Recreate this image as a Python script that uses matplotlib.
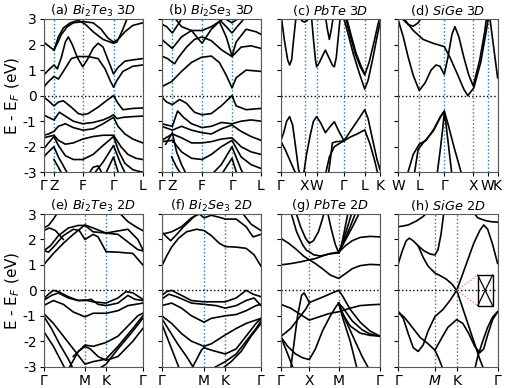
import matplotlib
matplotlib.use("Agg")
import matplotlib.pyplot as plt

# ---------------- data ----------------
titles = [r"(a) $Bi_2Te_3\ 3D$", r"(b) $Bi_2Se_3\ 3D$", r"(c) $PbTe\ 3D$", r"(d) $SiGe\ 3D$",
          r"(e) $Bi_2Te_3\ 2D$", r"(f) $Bi_2Se_3\ 2D$", r"(g) $PbTe\ 2D$", r"(h) $SiGe\ 2D$"]

y_ticks = [-3, -2, -1, 0, 1, 2, 3]
y_ticklabels = ["-3", "-2", "-1", "0", "1", "2", "3"]

a_kpos = [0.0, 0.105, 0.395, 0.705, 1.0]
a_klab = ["Γ", "Z", "F", "Γ", "L"]
b_kpos = [0.0, 0.107, 0.406, 0.708, 1.0]
b_klab = ["Γ", "Z", "F", "Γ", "L"]
c_kpos = [0.0, 0.242, 0.362, 0.637, 0.846, 1.0]
c_klab = ["Γ", "X", "W", "Γ", "L", "K"]
d_kpos = [0.0, 0.211, 0.463, 0.755, 0.899, 1.0]
d_klab = ["W", "L", "Γ", "X", "W", "K"]
e_kpos = [0.0, 0.418, 0.63, 1.0]
e_klab = ["Γ", "M", "K", "Γ"]
f_kpos = [0.0, 0.426, 0.64, 1.0]
f_klab = ["Γ", "M", "K", "Γ"]
g_kpos = [0.0, 0.288, 0.584, 1.0]
g_klab = ["Γ", "X", "M", "Γ"]
h_kpos = [0.0, 0.369, 0.588, 1.0]
h_klab = ["Γ", "$M$", "K", "Γ"]

a_bands = [
    [(0, 2.1), (0.05, 1.95), (0.105, 1.78), (0.14, 2.05), (0.18, 2.4), (0.24, 2.7), (0.3, 2.85), (0.4, 2.9), (0.5, 2.85), (0.58, 2.6), (0.65, 2.25), (0.705, 2.1), (0.75, 2.2), (0.82, 2.5), (0.9, 2.75), (1.0, 2.85)],
    [(0.105, 1.78), (0.15, 2.3), (0.2, 2.65), (0.27, 2.85), (0.35, 2.95), (0.42, 2.8), (0.5, 2.5), (0.6, 2.2), (0.705, 2.05), (0.74, 2.1), (0.8, 2.6), (0.85, 3.1)],
    [(0, 0.8), (0.05, 1.0), (0.105, 1.2), (0.14, 1.05), (0.18, 1.5), (0.22, 2.1), (0.25, 2.3), (0.29, 2.0), (0.34, 1.5), (0.395, 1.13), (0.44, 1.4), (0.5, 1.85), (0.55, 2.05), (0.6, 1.9), (0.65, 1.4), (0.705, 0.85), (0.75, 1.1), (0.82, 1.35), (0.9, 1.4), (1.0, 1.45)],
    [(0, 0.33), (0.05, 0.55), (0.105, 0.75), (0.15, 0.65), (0.2, 0.95), (0.28, 1.45), (0.35, 1.53), (0.45, 1.53), (0.55, 1.45), (0.62, 1.05), (0.67, 0.6), (0.705, 0.33), (0.74, 0.6), (0.8, 0.95), (0.9, 1.15), (1.0, 1.2)],
    [(0, -0.05), (0.05, -0.2), (0.105, -0.4), (0.15, -0.25), (0.2, -0.2), (0.28, -0.45), (0.35, -0.7), (0.395, -0.75), (0.45, -0.7), (0.55, -0.45), (0.65, -0.15), (0.705, 0.0), (0.75, -0.3), (0.8, -0.55), (0.9, -0.5), (1.0, -0.48)],
    [(0, -0.75), (0.05, -0.85), (0.105, -0.95), (0.16, -0.65), (0.22, -0.8), (0.3, -1.0), (0.395, -1.1), (0.5, -1.05), (0.6, -0.95), (0.66, -0.85), (0.705, -0.75), (0.74, -0.9), (0.8, -0.85), (0.9, -0.82), (1.0, -0.8)],
    [(0, -1.55), (0.05, -1.5), (0.105, -1.4), (0.15, -1.2), (0.22, -1.1), (0.3, -1.25), (0.395, -1.35), (0.5, -1.3), (0.6, -1.1), (0.705, -0.85), (0.75, -1.2), (0.82, -1.5), (0.9, -1.7), (1.0, -1.85)],
    [(0, -1.65), (0.105, -1.55), (0.15, -1.75), (0.22, -1.9), (0.3, -1.85), (0.395, -1.7), (0.5, -1.6), (0.6, -1.55), (0.705, -1.55), (0.78, -2.0), (0.85, -2.3), (0.93, -2.45), (1.0, -2.5)],
    [(0, -2.1), (0.05, -1.85), (0.105, -1.6), (0.15, -1.95), (0.22, -2.35), (0.3, -2.5), (0.395, -2.5), (0.5, -2.3), (0.6, -1.95), (0.705, -1.6), (0.76, -2.2), (0.82, -2.65), (0.9, -2.9), (1.0, -3.0)],
    [(0, -2.4), (0.05, -2.2), (0.105, -2.0), (0.15, -2.4), (0.2, -2.75), (0.25, -3.1)],
    [(0.105, -2.5), (0.15, -2.8), (0.19, -3.1)],
    [(0.5, -3.1), (0.6, -2.6), (0.705, -1.95), (0.77, -2.6), (0.83, -3.1)],
    [(0.62, -3.1), (0.705, -2.4), (0.76, -3.1)],
    [(0.45, -3.1), (0.5, -2.8), (0.55, -2.75), (0.6, -3.1)],
]

b_bands = [
    [(0, 0.35), (0.1, 0.55), (0.2, 0.95), (0.3, 1.3), (0.4, 1.5), (0.5, 1.55), (0.58, 1.3), (0.65, 0.8), (0.708, 0.3), (0.75, 0.7), (0.85, 1.0), (1.0, 0.95)],
    [(0, 1.55), (0.06, 1.45), (0.107, 1.3), (0.13, 1.25), (0.17, 1.5), (0.25, 1.9), (0.33, 2.2), (0.406, 2.3), (0.5, 2.15), (0.6, 1.8), (0.708, 1.53), (0.8, 1.9), (0.9, 1.95), (1.0, 1.85)],
    [(0, 2.2), (0.107, 1.85), (0.2, 2.3), (0.3, 2.55), (0.406, 2.05), (0.5, 2.6), (0.58, 2.9), (0.65, 2.3), (0.708, 1.55), (0.75, 2.1), (0.85, 2.6), (0.95, 2.5), (1.0, 2.4)],
    [(0, 2.8), (0.05, 2.7), (0.107, 2.45), (0.15, 2.7), (0.2, 3.0), (0.25, 3.1)],
    [(0.12, 3.1), (0.2, 2.7), (0.3, 2.55), (0.406, 2.55), (0.5, 2.7), (0.6, 2.95), (0.65, 3.1)],
    [(0.55, 3.1), (0.65, 2.7), (0.708, 2.45), (0.76, 2.7), (0.85, 3.1)],
    [(0.6, 3.1), (0.708, 2.85), (0.8, 3.1)],
    [(0, -0.05), (0.05, -0.25), (0.107, -0.35), (0.18, -0.15), (0.25, -0.3), (0.33, -0.65), (0.406, -0.75), (0.5, -0.7), (0.6, -0.4), (0.708, 0.0), (0.75, -0.4), (0.85, -0.55), (1.0, -0.5)],
    [(0, -1.1), (0.107, -1.2), (0.16, -0.6), (0.22, -0.85), (0.3, -1.1), (0.406, -1.25), (0.5, -1.2), (0.6, -1.05), (0.708, -1.1), (0.8, -1.0), (0.9, -0.95), (1.0, -1.0)],
    [(0, -1.2), (0.107, -1.35), (0.2, -1.2), (0.3, -1.35), (0.406, -1.45), (0.5, -1.5), (0.6, -1.3), (0.708, -1.15), (0.8, -1.4), (0.9, -1.6), (1.0, -1.75)],
    [(0, -1.75), (0.107, -1.5), (0.2, -1.65), (0.3, -1.85), (0.406, -1.85), (0.5, -1.8), (0.6, -1.7), (0.708, -1.65), (0.8, -2.0), (0.9, -2.2), (1.0, -2.3)],
    [(0, -1.8), (0.107, -1.75), (0.2, -2.2), (0.3, -2.45), (0.406, -2.5), (0.5, -2.3), (0.6, -2.0), (0.708, -1.75), (0.8, -2.4), (0.9, -2.7), (1.0, -2.85)],
    [(0.04, -1.9), (0.107, -1.45), (0.15, -2.2), (0.2, -2.7), (0.25, -3.1)],
    [(0.5, -3.1), (0.6, -2.7), (0.708, -2.0), (0.8, -2.9), (0.83, -3.1)],
    [(0.6, -3.1), (0.708, -2.45), (0.76, -3.1)],
    [(0.1, -2.4), (0.15, -2.8), (0.2, -3.1)],
]

c_bands = [
    [(0.005, 3.1), (0.04, 2.1), (0.07, 1.4), (0.09, 1.2), (0.11, 1.4), (0.13, 2.2), (0.155, 3.1)],
    [(0.19, 3.1), (0.215, 2.92), (0.242, 2.88), (0.27, 2.95), (0.29, 3.1)],
    [(0.31, 3.1), (0.33, 2.2), (0.35, 1.4), (0.362, 1.13), (0.39, 1.3), (0.42, 1.55), (0.45, 1.78), (0.49, 1.45), (0.52, 1.2), (0.54, 1.13), (0.56, 1.5), (0.58, 2.3), (0.6, 3.1)],
    [(0.45, 3.1), (0.47, 2.6), (0.49, 2.2), (0.51, 2.6), (0.53, 3.1)],
    [(0.63, 3.1), (0.68, 2.4), (0.73, 1.65), (0.79, 0.9), (0.846, 0.26), (0.88, 0.6), (0.93, 1.5), (0.97, 2.3), (1.0, 2.85)],
    [(0.65, 3.1), (0.7, 2.35), (0.75, 1.65), (0.8, 1.15), (0.846, 0.81), (0.89, 1.3), (0.94, 2.1), (0.98, 2.8), (1.0, 3.05)],
    [(0.66, 3.1), (0.71, 2.35), (0.76, 1.65), (0.81, 1.15), (0.846, 0.85)],
    [(0, -1.77), (0.03, -1.45), (0.06, -1.0), (0.09, -0.82), (0.12, -1.15), (0.15, -2.0), (0.18, -2.9), (0.2, -3.1)],
    [(0, -1.77), (0.05, -2.15), (0.1, -2.6), (0.14, -2.95), (0.16, -3.1)],
    [(0.23, -3.1), (0.26, -2.3), (0.3, -1.5), (0.33, -1.0), (0.362, -0.82), (0.4, -1.05), (0.45, -1.45), (0.5, -1.2), (0.54, -1.02), (0.58, -1.35), (0.637, -1.77), (0.7, -1.4), (0.77, -1.0), (0.846, -0.55), (0.88, -0.9), (0.93, -1.8), (0.97, -2.5), (1.0, -2.9)],
    [(0.48, -3.1), (0.5, -2.5), (0.52, -1.85), (0.56, -1.8), (0.6, -1.79), (0.637, -1.77), (0.7, -1.62), (0.77, -1.5), (0.846, -1.34), (0.9, -1.9), (0.95, -2.6), (0.98, -3.1)],
    [(0.45, -3.1), (0.49, -2.4), (0.54, -2.0), (0.6, -1.85), (0.637, -1.77)],
]

d_bands = [
    [(0.0, 2.95), (0.05, 2.3), (0.1, 1.5), (0.15, 0.8), (0.211, 0.2), (0.27, 0.5), (0.33, 1.0), (0.38, 1.2), (0.42, 1.15), (0.463, 0.83), (0.5, 1.5), (0.54, 2.4), (0.57, 2.7), (0.61, 2.3), (0.66, 1.5), (0.71, 0.8), (0.755, 0.38), (0.82, 1.4), (0.87, 2.5), (0.89, 3.1)],
    [(0.05, 3.05), (0.15, 2.55), (0.25, 2.2), (0.35, 2.05), (0.463, 1.92), (0.52, 1.5), (0.6, 0.8), (0.66, 0.25), (0.7, 0.0), (0.76, 0.3), (0.83, 1.3), (0.88, 2.4), (0.91, 3.1)],
    [(0.03, 3.05), (0.1, 2.78), (0.15, 2.72), (0.2, 2.85), (0.24, 3.1)],
    [(0.92, 3.1), (0.96, 1.9), (1.0, 0.7)],
    [(0.09, -3.1), (0.15, -2.3), (0.211, -1.9), (0.28, -1.75), (0.36, -1.3), (0.42, -0.85), (0.463, -0.6), (0.5, -1.1), (0.56, -2.0), (0.64, -3.1)],
    [(0.16, -3.1), (0.2, -2.1), (0.25, -1.85), (0.35, -1.4), (0.43, -0.8), (0.463, -0.62)],
    [(0.39, -3.1), (0.42, -2.2), (0.45, -1.2), (0.463, -0.65), (0.48, -1.1), (0.51, -2.1), (0.54, -3.1)],
]

e_bands = [
    [(0, 1.0), (0.1, 1.45), (0.2, 1.85), (0.3, 2.2), (0.418, 2.57), (0.5, 2.45), (0.63, 2.25), (0.75, 2.2), (0.85, 1.9), (0.95, 1.6), (1.0, 1.55)],
    [(0, 1.58), (0.05, 1.5), (0.1, 1.7), (0.2, 2.15), (0.3, 2.4), (0.36, 2.35), (0.418, 2.0), (0.5, 2.2), (0.55, 2.1), (0.63, 1.52), (0.75, 1.5), (0.9, 1.45), (1.0, 1.0)],
    [(0, 1.55), (0.07, 1.75), (0.15, 2.15), (0.25, 2.45), (0.35, 2.55), (0.418, 2.55), (0.5, 2.3), (0.63, 2.25), (0.7, 2.3), (0.85, 2.4), (0.95, 2.0), (1.0, 1.6)],
    [(0, 2.45), (0.05, 2.55), (0.1, 2.8), (0.15, 3.1)],
    [(0, 2.35), (0.06, 2.45), (0.12, 2.35), (0.2, 2.0)],
    [(0.75, 3.1), (0.85, 2.7), (0.95, 2.45), (1.0, 2.35)],
    [(0, -0.35), (0.05, -0.15), (0.1, 0.0), (0.15, -0.05), (0.25, -0.25), (0.35, -0.4), (0.418, -0.38), (0.5, -0.45), (0.63, -0.5), (0.75, -0.3), (0.83, -0.05), (0.9, -0.1), (1.0, -0.35)],
    [(0, -0.4), (0.08, -0.2), (0.15, -0.1), (0.25, -0.3), (0.35, -0.4), (0.418, -0.4), (0.48, -0.35), (0.55, -0.55), (0.63, -0.6), (0.75, -0.5), (0.85, -0.2), (0.92, -0.35), (1.0, -0.4)],
    [(0, -0.6), (0.1, -0.4), (0.2, -0.55), (0.3, -0.85), (0.418, -1.04), (0.5, -0.9), (0.63, -0.9), (0.75, -0.8), (0.85, -0.6), (1.0, -0.5)],
    [(0, -0.9), (0.1, -1.3), (0.2, -1.8), (0.3, -2.3), (0.418, -2.9), (0.5, -2.8), (0.63, -2.7), (0.75, -2.2), (0.9, -1.5), (1.0, -1.0)],
    [(0, -1.0), (0.08, -1.5), (0.16, -2.1), (0.25, -2.7), (0.3, -3.1)],
    [(0, -1.6), (0.1, -2.2), (0.18, -2.8), (0.22, -3.1)],
    [(0.3, -2.6), (0.418, -2.15), (0.5, -2.2), (0.63, -2.05), (0.75, -1.8), (0.85, -1.4), (0.95, -1.0), (1.0, -0.9)],
    [(0.25, -3.1), (0.35, -2.4), (0.418, -2.2), (0.47, -2.3), (0.55, -2.6), (0.63, -2.75), (0.75, -2.6), (0.9, -2.0), (1.0, -1.5)],
    [(0.55, -3.1), (0.63, -2.9), (0.75, -2.3), (0.9, -1.6), (1.0, -1.1)],
]

f_bands = [
    [(0, 0.95), (0.05, 1.35), (0.1, 1.7), (0.17, 2.05), (0.25, 2.3), (0.35, 2.4), (0.426, 2.35), (0.5, 2.15), (0.58, 1.85), (0.64, 1.72), (0.75, 1.7), (0.85, 1.65), (0.93, 1.4), (1.0, 0.95)],
    [(0, 2.3), (0.05, 2.1), (0.09, 1.95), (0.14, 2.15), (0.22, 2.5), (0.3, 2.8), (0.38, 3.1)],
    [(0, 2.2), (0.1, 2.3), (0.2, 2.5), (0.3, 2.85), (0.38, 3.0), (0.426, 2.85), (0.5, 2.95), (0.6, 2.85), (0.64, 2.8), (0.75, 2.8), (0.85, 2.5), (0.92, 2.1), (1.0, 2.2)],
    [(0.8, 3.1), (0.9, 2.6), (1.0, 2.35)],
    [(0, -0.2), (0.05, -0.05), (0.1, 0.0), (0.2, -0.2), (0.3, -0.4), (0.426, -0.45), (0.5, -0.45), (0.64, -0.45), (0.75, -0.3), (0.85, 0.0), (0.92, -0.15), (1.0, -0.25)],
    [(0, -0.35), (0.07, -0.15), (0.15, -0.25), (0.3, -0.5), (0.426, -0.55), (0.55, -0.6), (0.64, -0.7), (0.75, -0.6), (0.85, -0.4), (0.93, -0.3), (1.0, -0.6)],
    [(0, -0.6), (0.1, -0.5), (0.2, -0.7), (0.3, -1.0), (0.426, -1.25), (0.5, -1.1), (0.64, -1.0), (0.75, -0.95), (0.85, -0.8), (0.95, -0.6), (1.0, -0.55)],
    [(0, -1.0), (0.1, -1.3), (0.2, -1.7), (0.3, -2.0), (0.426, -2.2), (0.5, -2.1), (0.64, -1.75), (0.75, -1.5), (0.85, -1.3), (1.0, -1.1)],
    [(0, -1.1), (0.08, -1.6), (0.16, -2.1), (0.25, -2.6), (0.33, -3.1)],
    [(0, -1.3), (0.06, -1.9), (0.12, -2.5), (0.18, -3.1)],
    [(0.3, -3.1), (0.4, -2.35), (0.426, -2.25), (0.5, -2.35), (0.64, -2.5), (0.75, -2.3), (0.85, -1.8), (0.95, -1.3), (1.0, -1.1)],
    [(0.5, -3.1), (0.64, -2.8), (0.75, -2.5), (0.85, -2.0), (0.95, -1.5), (1.0, -1.2)],
    [(0.6, -3.1), (0.7, -2.8), (0.8, -2.4), (0.9, -1.8), (1.0, -1.3)],
]

g_bands = [
    [(0, 1.0), (0.1, 1.05), (0.2, 1.12), (0.288, 1.2), (0.35, 1.05), (0.42, 0.85), (0.5, 0.6), (0.584, 0.47), (0.65, 0.65), (0.72, 0.85), (0.8, 0.97), (0.9, 1.02), (1.0, 1.0)],
    [(0, 2.05), (0.08, 1.85), (0.16, 1.6), (0.23, 1.35), (0.288, 1.2), (0.35, 1.25), (0.42, 1.35), (0.5, 1.45), (0.584, 1.5), (0.65, 1.75), (0.72, 1.95), (0.8, 2.08), (0.9, 2.12), (1.0, 2.1)],
    [(0.1, 3.1), (0.16, 2.3), (0.22, 1.8), (0.26, 1.57), (0.288, 1.52), (0.33, 1.4), (0.4, 1.35), (0.48, 1.42), (0.584, 1.48)],
    [(0.15, 3.1), (0.2, 2.5), (0.25, 2.05), (0.288, 1.85), (0.33, 1.95), (0.38, 2.3), (0.42, 2.8), (0.44, 3.1)],
    [(0.47, 3.1), (0.51, 2.4), (0.55, 1.8), (0.584, 1.48), (0.61, 1.75), (0.64, 2.3), (0.68, 3.1)],
    [(0.584, 1.48), (0.625, 1.9), (0.67, 2.45), (0.72, 3.1)],
    [(0.584, 1.48), (0.64, 1.95), (0.7, 2.5), (0.76, 3.1)],
    [(0.584, 1.48), (0.655, 2.0), (0.73, 2.55), (0.8, 3.1)],
    [(0.1, -3.1), (0.13, -2.2), (0.17, -1.0), (0.21, -0.2), (0.235, -0.1), (0.265, -0.3), (0.288, -0.48), (0.35, -0.38), (0.45, -0.22), (0.55, -0.05), (0.584, 0.0), (0.62, -0.2), (0.7, -0.75), (0.8, -1.25), (0.9, -1.6), (1.0, -1.8)],
    [(0, -0.55), (0.1, -0.7), (0.2, -0.95), (0.288, -1.17), (0.38, -1.05), (0.48, -0.92), (0.584, -0.84), (0.7, -0.7), (0.8, -0.6), (0.9, -0.57), (1.0, -0.55)],
    [(0, -1.82), (0.07, -2.2), (0.15, -2.5), (0.22, -2.65), (0.288, -2.72), (0.35, -2.3), (0.42, -1.6), (0.5, -1.0), (0.56, -0.62), (0.584, -0.5), (0.63, -0.7), (0.72, -1.2), (0.82, -1.55), (0.9, -1.72), (1.0, -1.8)],
    [(0.584, -0.5), (0.62, -0.9), (0.7, -1.4), (0.8, -1.68), (0.9, -1.77), (1.0, -1.8)],
    [(0.584, -0.5), (0.63, -1.15), (0.7, -2.0), (0.77, -3.1)],
    [(0.584, -0.5), (0.65, -1.15), (0.75, -2.0), (0.82, -2.6), (0.89, -3.1)],
    [(0, -1.82), (0.1, -1.5), (0.2, -1.0), (0.25, -0.75), (0.288, -0.5)],
    [(0, -1.82), (0.05, -2.3), (0.1, -2.8), (0.13, -3.1)],
]

h_bands = [
    [(0, 2.5), (0.05, 2.53), (0.1, 2.57), (0.18, 2.72), (0.25, 2.9), (0.3, 3.1)],
    [(0, 1.05), (0.04, 1.55), (0.08, 1.95), (0.11, 2.05), (0.15, 1.95), (0.2, 1.75), (0.26, 1.55), (0.32, 1.43), (0.369, 1.39), (0.4, 1.6), (0.43, 2.2), (0.46, 3.1)],
    [(0.2, 1.75), (0.25, 1.3), (0.3, 0.95), (0.369, 0.68), (0.42, 0.58), (0.48, 0.45), (0.54, 0.25), (0.588, 0.0), (0.64, -0.6), (0.7, -1.3), (0.76, -2.0), (0.82, -2.7), (0.86, -3.1)],
    [(0, -0.84), (0.05, -1.1), (0.1, -1.7), (0.15, -2.25), (0.2, -2.4), (0.25, -2.15), (0.3, -1.6), (0.369, -1.03), (0.45, -0.75), (0.52, -0.4), (0.588, 0.0), (0.64, 0.55), (0.7, 1.2), (0.76, 1.85), (0.82, 2.35), (0.86, 2.57), (0.9, 2.4), (0.95, 1.8), (1.0, 1.06)],
    [(0, -0.84), (0.07, -1.1), (0.15, -1.5), (0.22, -1.85), (0.3, -2.1), (0.369, -2.35), (0.41, -2.7), (0.45, -3.1)],
    [(1.0, -0.84), (0.95, -1.15), (0.9, -1.75), (0.86, -2.3), (0.82, -2.45), (0.77, -2.2), (0.71, -1.7), (0.65, -1.3), (0.588, -1.15), (0.5, -1.45), (0.44, -1.85), (0.369, -2.35)],
    [(1.0, -0.84), (0.95, -1.05), (0.9, -1.45), (0.85, -2.0), (0.8, -2.6), (0.77, -3.1)],
    [(0.75, 3.1), (0.8, 2.85), (0.87, 2.75), (0.93, 2.7), (1.0, 2.68)],
]

panel_kpos = [a_kpos, b_kpos, c_kpos, d_kpos, e_kpos, f_kpos, g_kpos, h_kpos]
panel_klab = [a_klab, b_klab, c_klab, d_klab, e_klab, f_klab, g_klab, h_klab]
panel_bands = [a_bands, b_bands, c_bands, d_bands, e_bands, f_bands, g_bands, h_bands]

# inset (SiGe 2D Dirac cone zoom)
inset_box = (0.80, -0.60, 0.15, 1.20)   # x, y, w, h in data units of panel (h)
dirac_k = 0.588

# ---------------- figure ----------------
W, H = 507, 388
fig = plt.figure(figsize=(W / 100, H / 100), dpi=100)
lefts = [43.5, 161.7, 280.7, 398.3]
widths = 99.3
rows = [(19.0, 172.3), (214.0, 366.7)]

axes = []
for i in range(8):
    r, c = divmod(i, 4)
    top, bot = rows[r]
    ax = fig.add_axes([lefts[c] / W, 1 - bot / H, widths / W, (bot - top) / H])
    axes.append(ax)

for i, ax in enumerate(axes):
    kpos, klab, bands = panel_kpos[i], panel_klab[i], panel_bands[i]
    for xk in kpos:
        ax.axvline(xk, color="#1f77b4", ls=":", lw=1.0, zorder=1)
    ax.axhline(0, color="k", ls=":", lw=1.0, zorder=1)
    for b in bands:
        xs = [p[0] for p in b]
        ys = [p[1] for p in b]
        ax.plot(xs, ys, color="k", lw=1.2, zorder=2)
    ax.set_xlim(0, 1)
    ax.set_ylim(-3, 3)
    ax.set_xticks(kpos)
    ax.set_xticklabels(klab, fontsize=10)
    ax.set_yticks(y_ticks)
    ax.tick_params(axis="both", length=3, width=0.8, pad=2)
    if i % 4 == 0:
        ax.set_yticklabels(y_ticklabels, fontsize=10)
        ax.set_ylabel(r"E - E$_F$ (eV)", fontsize=11)
        ax.yaxis.set_label_coords(-0.215, 0.5)
    else:
        ax.set_yticklabels([])
    ax.set_title(titles[i], fontsize=9.3, pad=3)
    for s in ax.spines.values():
        s.set_color("0.35")
        s.set_linewidth(0.8)

# inset in panel (h)
axh = axes[7]
bx, by, bw, bh = inset_box
axh.plot([dirac_k, bx], [0.0, by + bh], color="#ff6666", ls=":", lw=0.9, zorder=3)
axh.plot([dirac_k, bx], [0.0, by], color="#ff6666", ls=":", lw=0.9, zorder=3)
axh.add_patch(plt.Rectangle((bx, by), bw, bh, facecolor="white", ec="k", lw=1.0, zorder=4))
axh.plot([bx, bx + bw], [by + bh, by], color="k", lw=0.9, zorder=5)
axh.plot([bx, bx + bw], [by, by + bh], color="k", lw=0.9, zorder=5)
axh.plot([bx, bx + bw], [0, 0], color="k", ls=":", lw=1.0, zorder=5)

fig.savefig("out.png", dpi=100)
